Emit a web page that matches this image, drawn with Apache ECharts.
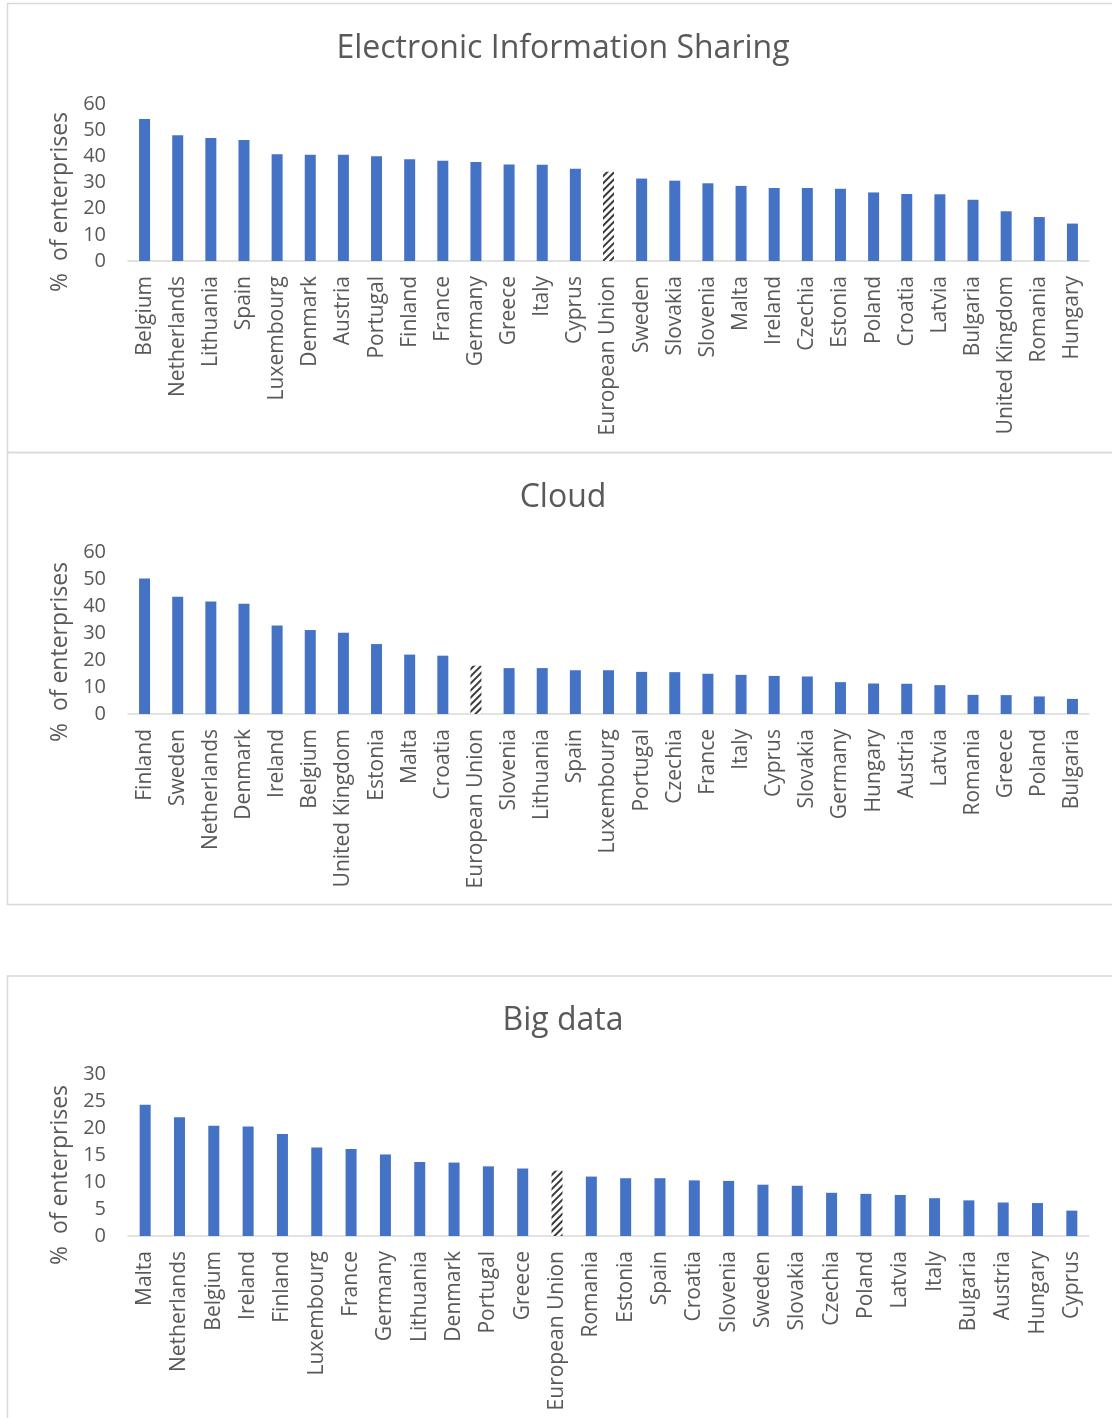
<!DOCTYPE html>
<html>
<head>
<meta charset="utf-8">
<script src="https://cdn.jsdelivr.net/npm/echarts@6/dist/echarts.min.js"></script>
<style>
  html, body { margin: 0; padding: 0; background: #fff; }
  #chart { width: 1112px; height: 1418px; }
</style>
</head>
<body>
<div id="chart"></div>
<script>
// Electronic information sharing
const sharingCountries = ['Belgium', 'Netherlands', 'Lithuania', 'Spain', 'Luxembourg', 'Denmark', 'Austria', 'Portugal', 'Finland', 'France', 'Germany', 'Greece', 'Italy', 'Cyprus', 'European Union', 'Sweden', 'Slovakia', 'Slovenia', 'Malta', 'Ireland', 'Czechia', 'Estonia', 'Poland', 'Croatia', 'Latvia', 'Bulgaria', 'United Kingdom', 'Romania', 'Hungary']
const sharingValues = [54.3, 48.1, 47.0, 46.2, 40.8, 40.6, 40.6, 40.0, 38.9, 38.3, 37.8, 36.9, 36.8, 35.3, 34.1, 31.5, 30.7, 29.7, 28.7, 27.9, 27.9, 27.6, 26.2, 25.6, 25.5, 23.4, 19.0, 16.8, 14.3]

// Cloud
const cloudCountries = ['Finland', 'Sweden', 'Netherlands', 'Denmark', 'Ireland', 'Belgium', 'United Kingdom', 'Estonia', 'Malta', 'Croatia', 'European Union', 'Slovenia', 'Lithuania', 'Spain', 'Luxembourg', 'Portugal', 'Czechia', 'France', 'Italy', 'Cyprus', 'Slovakia', 'Germany', 'Hungary', 'Austria', 'Latvia', 'Romania', 'Greece', 'Poland', 'Bulgaria']
const cloudValues = [50.2, 43.4, 41.7, 40.8, 32.8, 31.1, 30.1, 25.9, 22.0, 21.6, 17.9, 17.0, 17.0, 16.2, 16.2, 15.6, 15.5, 14.9, 14.5, 14.1, 13.9, 11.8, 11.3, 11.2, 10.7, 7.1, 7.0, 6.5, 5.6]

// Big data
const bigDataCountries = ['Malta', 'Netherlands', 'Belgium', 'Ireland', 'Finland', 'Luxembourg', 'France', 'Germany', 'Lithuania', 'Denmark', 'Portugal', 'Greece', 'European Union', 'Romania', 'Estonia', 'Spain', 'Croatia', 'Slovenia', 'Sweden', 'Slovakia', 'Czechia', 'Poland', 'Latvia', 'Italy', 'Bulgaria', 'Austria', 'Hungary', 'Cyprus']
const bigDataValues = [24.3, 22.0, 20.4, 20.3, 18.9, 16.4, 16.1, 15.1, 13.7, 13.6, 12.9, 12.5, 12.1, 11.0, 10.7, 10.7, 10.3, 10.2, 9.5, 9.3, 8.0, 7.8, 7.6, 7.0, 6.6, 6.2, 6.1, 4.7]

const titles = ['Electronic Information Sharing', 'Cloud', 'Big data']
const yMax = [60, 60, 30]
const yStep = [10, 10, 5]

const blue = '#4472C4'
const grey = '#595959'
const font = '"Open Sans", sans-serif'

// hatched bar for the EU average
function barData(countries, values) {
  return values.map(function(v, i) {
    if (countries[i] !== 'European Union') return v
    return {
      value: v,
      itemStyle: {
        color: '#fff',
        decal: {
          symbol: 'rect',
          symbolSize: 1,
          color: '#3a3a3a',
          backgroundColor: '#fff',
          dashArrayX: [1, 0],
          dashArrayY: [1.5, 2.5],
          rotation: -Math.PI / 4
        }
      }
    }
  })
}

const sets = [
  [sharingCountries, sharingValues],
  [cloudCountries, cloudValues],
  [bigDataCountries, bigDataValues]
]
const gridTops = [104, 552, 1074]
const gridHeights = [157, 162, 162]
const titleTops = [28, 477, 1000]
const nameCenters = [202, 652, 1175]

const option = {
  animation: false,
  backgroundColor: '#fff',
  title: titles.map(function(t, i) {
    return {
      text: t,
      left: 558,
      top: titleTops[i],
      textAlign: 'center',
      textStyle: { fontFamily: font, fontSize: 32, fontWeight: 'normal', color: grey }
    }
  }),
  grid: gridTops.map(function(top, i) {
    return { left: 128, width: 961, top: top, height: gridHeights[i] }
  }),
  xAxis: sets.map(function(s, i) {
    return {
      type: 'category',
      gridIndex: i,
      data: s[0],
      axisLine: { lineStyle: { color: '#d9d9d9', width: 1.5 } },
      axisTick: { show: false },
      axisLabel: {
        rotate: 90,
        interval: 0,
        margin: 15,
        color: grey,
        fontFamily: font,
        fontSize: 21
      }
    }
  }),
  yAxis: sets.map(function(s, i) {
    return {
      type: 'value',
      gridIndex: i,
      min: 0,
      max: yMax[i],
      interval: yStep[i],
      splitLine: { show: false },
      axisLine: { show: false },
      axisTick: { show: false },
      axisLabel: { margin: 22, color: grey, fontFamily: font, fontSize: 20 }
    }
  }),
  series: sets.map(function(s, i) {
    return {
      type: 'bar',
      xAxisIndex: i,
      yAxisIndex: i,
      barWidth: 11,
      itemStyle: { color: blue },
      data: barData(s[0], s[1])
    }
  }),
  graphic: [
    { type: 'rect', shape: { x: 7.5, y: 3.5, width: 1120, height: 449 }, style: { fill: 'none', stroke: '#d9d9d9', lineWidth: 1.5 } },
    { type: 'rect', shape: { x: 7.5, y: 452.5, width: 1120, height: 452 }, style: { fill: 'none', stroke: '#d9d9d9', lineWidth: 1.5 } },
    { type: 'rect', shape: { x: 7.5, y: 976, width: 1120, height: 460 }, style: { fill: 'none', stroke: '#d9d9d9', lineWidth: 1.5 } }
  ].concat(nameCenters.map(function(cy) {
    return {
      type: 'text',
      x: 60,
      y: cy,
      rotation: Math.PI / 2,
      style: {
        text: '%  of enterprises',
        font: '23px "Open Sans", sans-serif',
        fill: grey,
        align: 'center',
        verticalAlign: 'middle'
      }
    }
  }))
}

const chart = echarts.init(document.getElementById('chart'))
chart.setOption(option)
</script>
</body>
</html>
